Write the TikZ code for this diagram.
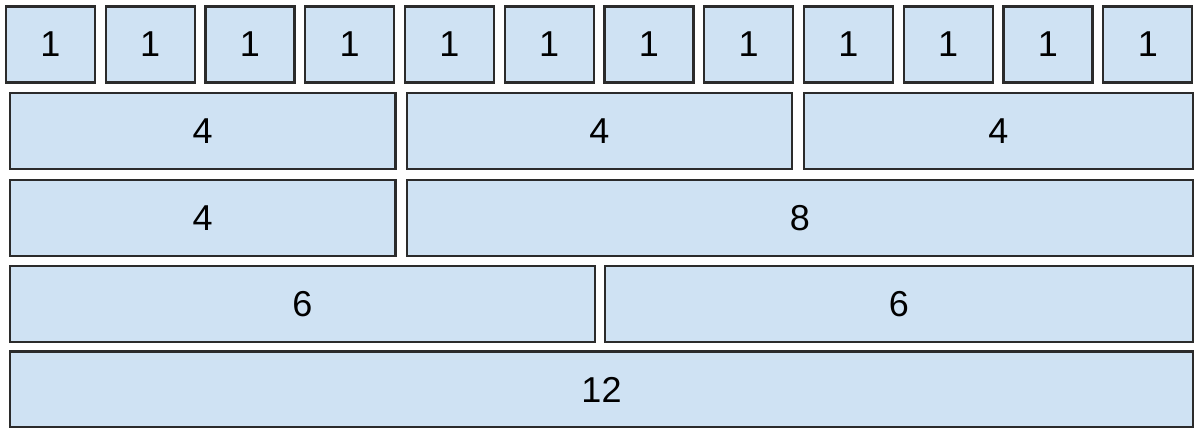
\documentclass[tikz,border=0pt]{standalone}
\usepackage{fontspec}
\setmainfont{Liberation Sans}
\usepackage{tikz}
\usetikzlibrary{positioning}
\definecolor{cellblue}{HTML}{CFE2F3}
\definecolor{cellline}{HTML}{2B2B2B}

\begin{document}
\begin{tikzpicture}[x=0.5pt, y=-0.5pt,
      cell/.style={draw=cellline, fill=cellblue, line width=1.1pt, inner sep=0pt, outer sep=0pt,
                   minimum width=#1*0.5pt, minimum height=38pt, font=\fontsize{18}{21}\selectfont}]
    \useasboundingbox (0,0) rectangle (1200,428);
    % top row: twelve single columns
    \foreach \i in {0,...,11}
      \node[cell=89] (one\i) at ({50.5+99.75*\i},44.5) {1};
    % thirds
    \node[cell=385.5] (fourA) at (202.75,131) {4};
    \node[cell=385] (fourB) at (599.5,131) {4};
    \node[cell=389] (fourC) at (998.5,131) {4};
    % third + two thirds
    \node[cell=385.5] (fourD) at (202.75,218) {4};
    \node[cell=786] (eight) at (800,218) {8};
    % halves
    \node[cell=585] (sixA) at (302.5,304) {6};
    \node[cell=588] (sixB) at (899,304) {6};
    % full width
    \node[cell=1183] (twelve) at (601.5,389.5) {12};
  \end{tikzpicture}
\end{document}
